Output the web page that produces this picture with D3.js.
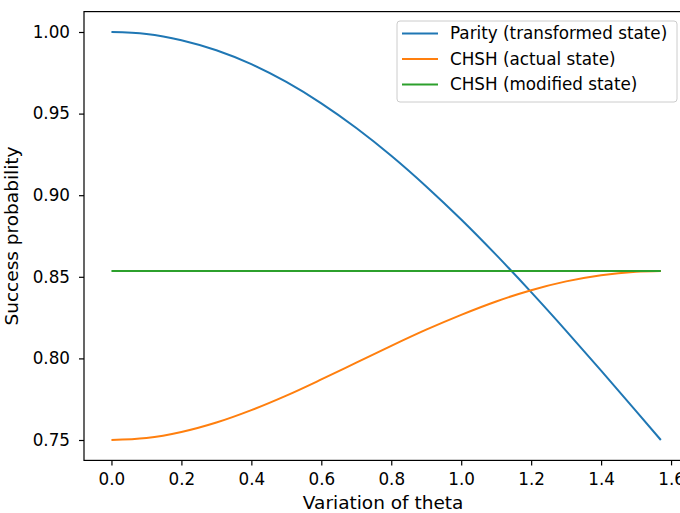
<!DOCTYPE html>
<html>
<head>
<meta charset="utf-8">
<script src="https://cdn.jsdelivr.net/npm/d3@7"></script>
<style>
  body { margin: 0; background: #fff; }
  svg { display: block; font-family: "DejaVu Sans", sans-serif; }
</style>
</head>
<body>
<div id="chart"></div>
<script>
// values
var theta = [0, 0.1, 0.2, 0.3, 0.4, 0.5, 0.6, 0.7, 0.8, 0.9, 1.0, 1.1, 1.2, 1.3, 1.4, 1.5, 1.5708];
var parity = [1.0, 0.9988, 0.9950, 0.9888, 0.9803, 0.9694, 0.9563, 0.9412, 0.9242, 0.9054, 0.8851, 0.8634, 0.8406, 0.8169, 0.7925, 0.7677, 0.75];
var chshActual = [0.75, 0.7512, 0.7549, 0.7607, 0.7683, 0.7772, 0.7871, 0.7974, 0.8077, 0.8176, 0.8267, 0.8349, 0.8418, 0.8472, 0.8510, 0.8531, 0.8536];
var chshModified = [0.8536, 0.8536, 0.8536, 0.8536, 0.8536, 0.8536, 0.8536, 0.8536, 0.8536, 0.8536, 0.8536, 0.8536, 0.8536, 0.8536, 0.8536, 0.8536, 0.8536];
var seriesNames = ["Parity (transformed state)", "CHSH (actual state)", "CHSH (modified state)"];
var seriesColors = ["#1f77b4", "#ff7f0e", "#2ca02c"];
var xTicks = [0.0, 0.2, 0.4, 0.6, 0.8, 1.0, 1.2, 1.4, 1.6];
var yTicks = [0.75, 0.80, 0.85, 0.90, 0.95, 1.00];

(function() {
  var width = 680, height = 513;
  var svg = d3.select("#chart").append("svg").attr("width", width).attr("height", height);

  // axes box (right side runs past the window, like the reference)
  var x0 = 84, x1 = 688.3, y0 = 11.6, y1 = 460.4;

  var x = d3.scaleLinear().domain([-0.0785, 1.6493]).range([x0, x1]);
  var y = d3.scaleLinear().domain([0.7375, 1.0125]).range([y1, y0]);

  var allSeries = [parity, chshActual, chshModified];

  var line = d3.line()
    .x(function(d, i) { return x(theta[i]); })
    .y(function(d) { return y(d); })
    .curve(d3.curveMonotoneX);

  svg.append("g")
    .selectAll("path")
    .data(allSeries)
    .join("path")
      .attr("fill", "none")
      .attr("stroke", function(d, i) { return seriesColors[i]; })
      .attr("stroke-width", 2)
      .attr("d", line);

  // frame
  svg.append("rect")
    .attr("x", x0).attr("y", y0)
    .attr("width", x1 - x0).attr("height", y1 - y0)
    .attr("fill", "none").attr("stroke", "#000").attr("stroke-width", 1.2);

  var xAxis = svg.append("g")
    .attr("transform", "translate(0," + y1 + ")")
    .call(d3.axisBottom(x).tickValues(xTicks).tickFormat(d3.format(".1f")).tickSize(5).tickPadding(8).tickSizeOuter(0));
  var yAxis = svg.append("g")
    .attr("transform", "translate(" + x0 + ",0)")
    .call(d3.axisLeft(y).tickValues(yTicks).tickFormat(d3.format(".2f")).tickSize(5).tickPadding(9).tickSizeOuter(0));

  [xAxis, yAxis].forEach(function(a) {
    a.select(".domain").remove();
    a.selectAll("line").attr("stroke", "#000").attr("stroke-width", 1.2);
    a.selectAll("text").attr("font-size", 16.8).attr("font-family", "DejaVu Sans").attr("fill", "#000");
  });

  svg.append("text")
    .attr("x", (x0 + x1) / 2 - 3).attr("y", 509)
    .attr("text-anchor", "middle")
    .attr("font-size", 18.5)
    .text("Variation of theta");

  svg.append("text")
    .attr("transform", "translate(18," + (y0 + y1) / 2 + ") rotate(-90)")
    .attr("text-anchor", "middle")
    .attr("font-size", 18.5)
    .text("Success probability");

  // legend
  var legend = svg.append("g");
  legend.append("rect")
    .attr("x", 397).attr("y", 21).attr("width", 280).attr("height", 81).attr("rx", 3)
    .attr("fill", "#fff").attr("fill-opacity", 0.8)
    .attr("stroke", "#cccccc").attr("stroke-width", 1);

  var rows = legend.selectAll(".row")
    .data(seriesNames)
    .join("g")
      .attr("transform", function(d, i) { return "translate(402," + (33.5 + i * 25.5) + ")"; });
  rows.append("line")
    .attr("x1", 0).attr("x2", 36)
    .attr("stroke", function(d, i) { return seriesColors[i]; })
    .attr("stroke-width", 2);
  rows.append("text")
    .attr("x", 48).attr("dy", "0.35em")
    .attr("font-size", 16.8)
    .text(function(d) { return d; });
})();
</script>
</body>
</html>
